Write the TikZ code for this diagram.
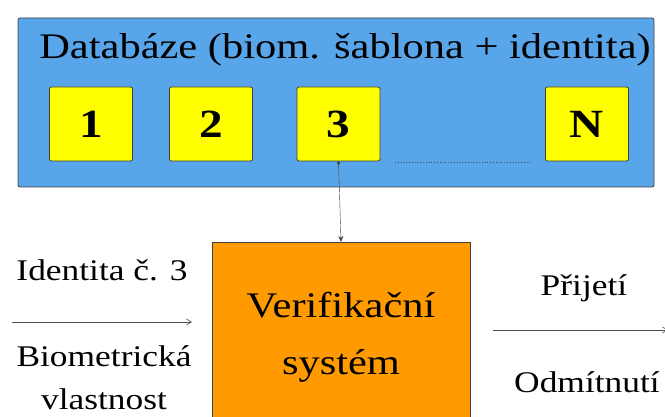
\documentclass[tikz,border=0pt]{standalone}
\usepackage{fontspec}
\setmainfont{Liberation Serif}[FakeStretch=1.18]
\newfontfamily\timesw{Liberation Serif}[FakeStretch=1.18]
\usetikzlibrary{arrows.meta}
\definecolor{dbblue}{RGB}{88,165,234}
\definecolor{itemyellow}{RGB}{255,255,0}
\definecolor{sysorange}{RGB}{255,155,0}

\begin{document}
\begin{tikzpicture}
[
  x=1pt, y=-1pt,
	db/.style={draw=black!75,thick,fill=dbblue,rounded corners=2pt},
	item/.style={draw=black!75,thick,fill=itemyellow,rounded corners=2pt,minimum width=83pt,minimum height=74pt,font=\timesw\fontsize{40}{42}\selectfont\bfseries},
	sys/.style={draw=black!75,thick,fill=sysorange,align=center,font=\timesw\fontsize{36}{57}\selectfont},
	lbl/.style={align=center,font=\timesw\fontsize{30}{43}\selectfont},
	arr/.style={-{Straight Barb[length=5pt,width=6pt]},black!70,semithick}
]
\useasboundingbox (0,0) rectangle (665,417);

% database
\node[db,minimum width=636pt,minimum height=169pt] (db) at (336,102.5) {};
\node[font=\timesw\fontsize{36}{38}\selectfont] (title) at (345,50) {Databáze (biom. šablona + identita)};

\node[item] (t1) at (91,124) {1};
\node[item] (t2) at (211,124) {2};
\node[item] (t3) at (338.5,124) {3};
\node[item] (tn) at (587,124) {N};

\coordinate (dotsA) at (395,162);
\coordinate (dotsB) at (532,162);
\draw[thick,dotted,black!70] (dotsA) -- (dotsB);

% system
\node[sys,minimum width=258pt,minimum height=190pt,anchor=north] (verif) at (341,242) {Verifikační\\systém};
\draw[{Circle[length=3pt]}-{Stealth[length=6pt,width=5pt]},black!75] (t3.south) -- (verif.north);

% input
\node[lbl] (ident) at (102,270) {Identita č. 3};
\node[lbl] (biom) at (104,378) {Biometrická\\vlastnost};
\coordinate (inA) at (12,322);
\coordinate (inB) at (192,322);
\draw[arr] (inA) -- (inB);

% output
\node[lbl] (accept) at (584,288) {Přijetí};
\node[lbl] (reject) at (587,382) {Odmítnutí};
\coordinate (outA) at (493,330);
\coordinate (outB) at (668,330);
\draw[arr] (outA) -- (outB);

\end{tikzpicture}
\end{document}
